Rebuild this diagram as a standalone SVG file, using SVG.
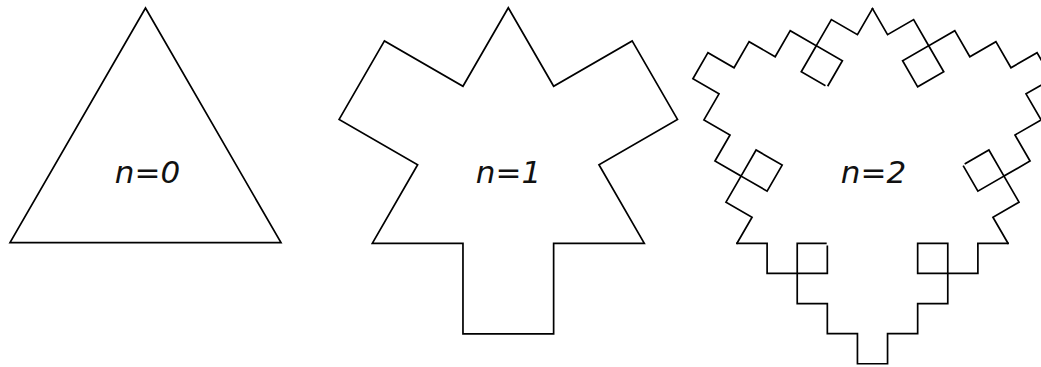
<svg xmlns="http://www.w3.org/2000/svg" xmlns:xlink="http://www.w3.org/1999/xlink" width="1041" height="367" viewBox="0 0 1041 367">
  <style>
    .curve { fill: none; stroke: #000; stroke-width: 1.7; stroke-linejoin: miter; }
    .sq { stroke-linecap: square; }
    .lbl { font-family: "DejaVu Sans", "Liberation Sans", sans-serif; font-style: italic; font-size: 31px; fill: #111; text-anchor: middle; }
  </style>
  <defs>
    <path id="side2" class="curve sq" d="M0,0 H30 V30 H60 V0 H88.5 M90,3 V30 H60 V60 H90 V90 H120 V120 H150 V90 H180 V60 H210 V30 H180 V0 H210 V30 H240 V0 H270"/>
  </defs>
  <rect width="1041" height="367" fill="#fff"/>
  <g id="n0">
    <polygon class="curve" points="10,242.7 281,242.7 145.5,8"/>
    <text class="lbl" x="147.5" y="183">n=0</text>
  </g>
  <g id="n1">
    <polygon class="curve" points="372.3,243.3 462.97,243.3 462.97,333.97 553.63,333.97 553.63,243.3 644.3,243.3 598.97,164.78 677.49,119.45 632.16,40.93 553.64,86.26 508.3,7.74 462.97,86.26 384.45,40.93 339.12,119.45 417.64,164.78"/>
    <text class="lbl" x="508.5" y="183">n=1</text>
  </g>
  <g id="n2">
    <use xlink:href="#side2" href="#side2" transform="translate(737,243.3) scale(1.0037)"/>
    <use xlink:href="#side2" href="#side2" transform="translate(1008,243.3) rotate(-120) scale(1.0037)"/>
    <use xlink:href="#side2" href="#side2" transform="translate(872.5,8.6) rotate(120) scale(1.0037)"/>
    <text class="lbl" x="873.5" y="183">n=2</text>
  </g>
</svg>
